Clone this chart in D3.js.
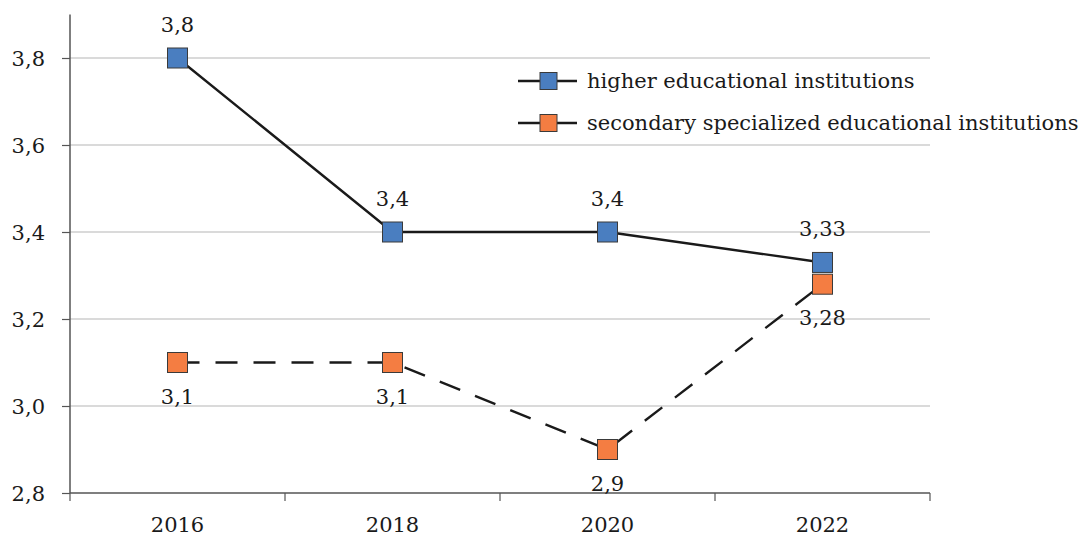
<!DOCTYPE html>
<html>
<head>
<meta charset="utf-8">
<script src="https://cdn.jsdelivr.net/npm/d3@7"></script>
<style>
  html, body { margin: 0; padding: 0; background: #fff; }
  svg { display: block; }
  text { font-family: "DejaVu Serif", serif; fill: #1a1a1a; }
</style>
</head>
<body>
<svg id="chart" width="1083" height="538"></svg>
<script>
// Years on the x axis
const years = ["2016", "2018", "2020", "2022"];
// Values for each kind of institution
const higherValues = [3.8, 3.4, 3.4, 3.33];
const secondaryValues = [3.1, 3.1, 2.9, 3.28];
// Series names shown in the legend
const seriesNames = ["higher educational institutions", "secondary specialized educational institutions"];
// Y axis tick values
const yTicks = [2.8, 3.0, 3.2, 3.4, 3.6, 3.8];

const svg = d3.select("#chart");
const fontSize = 21;
const fmt = v => String(v).replace(".", ",");
const fmtTick = v => v.toFixed(1).replace(".", ",");

const x = d3.scaleBand().domain(years).range([70, 930]).padding(0);
const y = d3.scaleLinear().domain([2.8, 3.9]).range([493, 14.5]);
const cx = d => x(d) + x.bandwidth() / 2;

// Horizontal gridlines
svg.append("g")
  .selectAll("line")
  .data(yTicks.filter(t => t > 2.8))
  .join("line")
  .attr("x1", 70).attr("x2", 930)
  .attr("y1", d => y(d)).attr("y2", d => y(d))
  .attr("stroke", "#b5b5b5").attr("stroke-width", 1.2);

// Y axis
const yAxis = svg.append("g")
  .attr("transform", "translate(70,0)")
  .call(d3.axisLeft(y).tickValues(yTicks).tickFormat(fmtTick).tickSize(8).tickPadding(17));
yAxis.select(".domain").attr("stroke", "#555").attr("stroke-width", 1.5)
  .attr("d", `M0,${y(3.9)}V${y(2.8)}`);
yAxis.selectAll(".tick line").attr("stroke", "#555").attr("stroke-width", 1.2);
yAxis.selectAll(".tick text").attr("font-size", fontSize).attr("font-family", "DejaVu Serif")
  .attr("fill", "#1a1a1a").attr("dy", "0.36em");

// X axis with ticks on band boundaries
const xAxis = svg.append("g").attr("transform", `translate(0,${y(2.8)})`);
xAxis.append("line").attr("x1", 70).attr("x2", 930).attr("y1", 0).attr("y2", 0)
  .attr("stroke", "#555").attr("stroke-width", 1.5);
const bounds = years.map(d => x(d)).concat([x(years[years.length - 1]) + x.bandwidth()]);
xAxis.selectAll("line.tk").data(bounds).join("line").attr("class", "tk")
  .attr("x1", d => d).attr("x2", d => d).attr("y1", 0).attr("y2", 8)
  .attr("stroke", "#555").attr("stroke-width", 1.2);
xAxis.selectAll("text").data(years).join("text")
  .attr("x", d => cx(d)).attr("y", 39)
  .attr("text-anchor", "middle").attr("font-size", fontSize)
  .text(d => d);

const line = d3.line().x((d, i) => cx(years[i])).y(d => y(d));

// Series lines
svg.append("path").datum(higherValues).attr("d", line)
  .attr("fill", "none").attr("stroke", "#1a1a1a").attr("stroke-width", 2.4);
svg.append("path").datum(secondaryValues).attr("d", line)
  .attr("fill", "none").attr("stroke", "#1a1a1a").attr("stroke-width", 2.4)
  .attr("stroke-dasharray", "22,16");

const ms = 20;
function markers(vals, color) {
  svg.append("g").selectAll("rect").data(vals).join("rect")
    .attr("x", (d, i) => cx(years[i]) - ms / 2)
    .attr("y", d => y(d) - ms / 2)
    .attr("width", ms).attr("height", ms)
    .attr("fill", color).attr("stroke", "#3a3a3a").attr("stroke-width", 1);
}
markers(secondaryValues, "#f47d42");
markers(higherValues, "#4a7ec0");

// Value labels
svg.append("g").selectAll("text").data(higherValues).join("text")
  .attr("x", (d, i) => cx(years[i])).attr("y", d => y(d) - 26)
  .attr("text-anchor", "middle").attr("font-size", fontSize).text(fmt);
svg.append("g").selectAll("text").data(secondaryValues).join("text")
  .attr("x", (d, i) => cx(years[i])).attr("y", d => y(d) + 41)
  .attr("text-anchor", "middle").attr("font-size", fontSize).text(fmt);

// Legend
const legend = svg.append("g");
const legendColors = ["#4a7ec0", "#f47d42"];
seriesNames.forEach((name, i) => {
  const ly = 81 + i * 42;
  legend.append("line").attr("x1", 518).attr("x2", 577).attr("y1", ly).attr("y2", ly)
    .attr("stroke", "#1a1a1a").attr("stroke-width", 2.4);
  legend.append("rect").attr("x", 540).attr("y", ly - 8.5).attr("width", 17).attr("height", 17)
    .attr("fill", legendColors[i]).attr("stroke", "#3a3a3a").attr("stroke-width", 1);
  legend.append("text").attr("x", 587).attr("y", ly + 7)
    .attr("font-size", fontSize).text(name);
});
</script>
</body>
</html>
